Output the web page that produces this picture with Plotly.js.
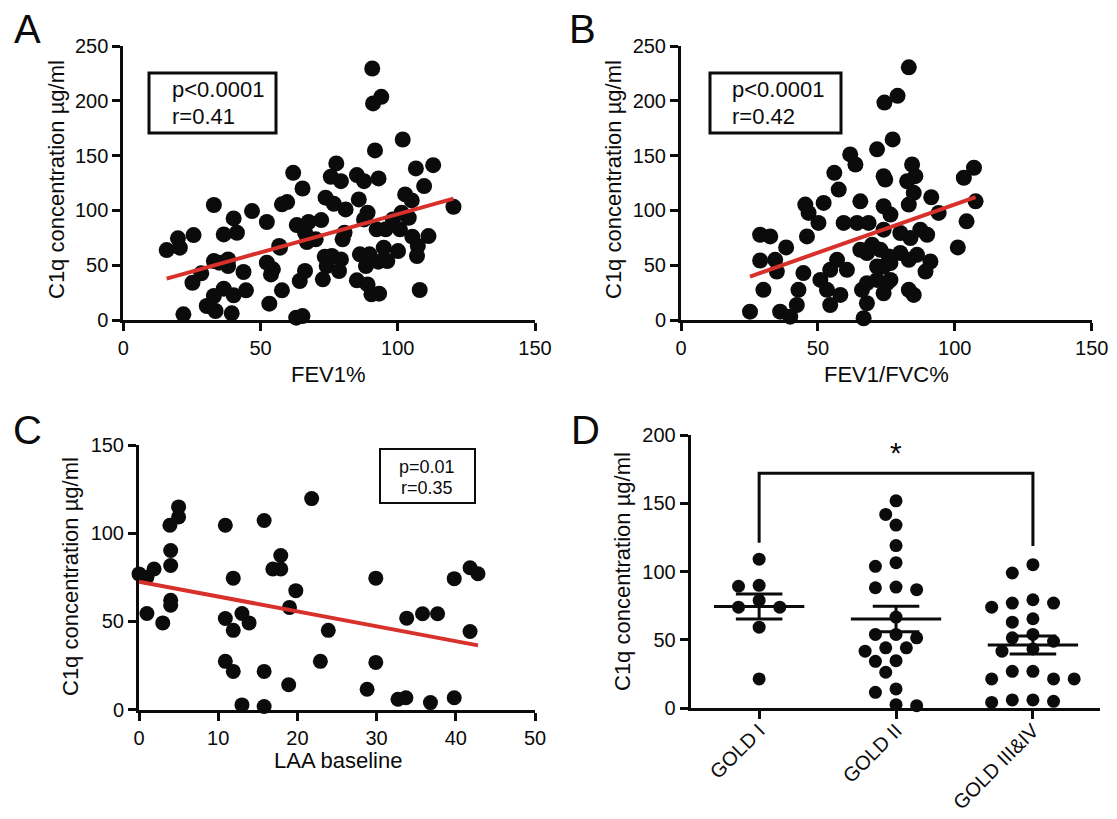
<!DOCTYPE html>
<html>
<head>
<meta charset="utf-8">
<script src="https://cdn.plot.ly/plotly-3.0.1.min.js"></script>
<style>html,body{margin:0;padding:0;background:#fff;}#chart{width:1117px;height:819px;}</style>
</head>
<body>
<div id="chart"></div>
<script>
// ---------- Panel A: FEV1% vs C1q ----------
const fev1 = [90.7,91,94,101.8,91.7,77.6,112.9,106.6,61.9,75.6,79.3,85.1,87.7,93,65.3,109.6,73.7,76.7,81,85.8,102.7,105.1,120.3,33,46.9,57.8,59.7,40.2,52.3,41.4,36.6,25.6,19.9,20.6,15.8,63.2,67.5,72.1,66.2,70.1,66.9,57.1,87.7,89,98.2,101.4,104,92.3,95.6,100.8,105.3,111.2,80.6,79.9,94.9,100.1,107.3,107,86.2,89.7,88.4,92.9,96.2,73.4,76,79.3,74.1,78.6,72.7,66.2,64.3,54.5,52.3,53.8,56.8,85.1,89,90.4,93.2,108,33,34.9,38.2,38.2,43.8,28.4,25.2,44.7,40.2,36.6,33,30.4,33.6,39.5,53.2,57.8,21.9,63,65.3];
const c1qA = [229.5,197.6,203.6,164.7,154.7,142.9,141.3,138.3,134.3,130.7,126.7,132.2,126.7,129.2,120,122.2,111.6,106,100.9,110,114.6,109.1,103.3,104.9,99.4,105.5,107.6,92.7,89.4,79.6,78.1,77.5,74.5,66,63.8,86.6,89.4,91.2,79.6,73.6,71.1,66,91.8,97.9,91.8,97.9,93.3,82.7,82.7,82.7,76,76.6,79.6,73.6,66,62.9,67.5,58.4,59.9,59.9,49.2,53.2,53.8,57.8,58.4,55.3,49.2,44.7,37.1,44.7,35.6,46.2,52.3,41.6,67.5,36.2,32.5,23.4,24,27.4,53.8,52.3,55.3,49.2,43.8,42.6,34,27.1,22.5,28.6,21.9,12.8,8.2,6.1,14.9,27.1,5.2,2.1,3.6];

// ---------- Panel B: FEV1/FVC% vs C1q ----------
const fev1fvc = [83.2,79.1,74.3,77.3,71.6,84.4,85.6,82.6,74.6,107,103.3,107.6,104.3,101.1,91.4,94.1,85,83.2,74,76.5,87.4,89.9,83.8,80.1,72.8,80.1,86.2,91.1,83.2,76.5,89.3,74,75.3,83.2,85,28.9,32.6,38.4,28.9,34.4,35,30.1,25.2,36.2,39.9,42.3,42.9,44.7,45.4,46.6,50.2,46,52.1,56,57.6,61.8,63.7,74,65.5,59.4,64.3,68.5,74,67.9,75.9,57,54.5,50.9,53.3,58.2,54.5,60.6,66.1,67.9,66.7,71.6,74,71.6,69.8,65.5,67.9,76.5];
const c1qB = [230.5,204.5,198.4,164.8,155.7,141.9,131.2,126.6,128.2,138.9,129.8,108.3,90,66.2,112,97.7,116,105.3,103.8,96.2,82.4,77.8,74.8,79.4,64.1,61.1,59.5,53.4,54.9,51.9,44.2,48.8,33.6,27.5,22.9,77.8,76.3,66.2,54.3,54.9,44.2,27.5,7.6,7.6,3,13.7,27.5,42.8,105.3,97.7,88.6,76.3,106.8,134.3,119,151.1,141.9,131.2,108.3,88.6,88.6,88.6,82.4,61.1,58,54.9,45.8,36.6,27.5,22.9,13.7,45.8,27.5,15.3,1.6,36.6,24.4,48.8,68.7,64.1,33.6,36.6];

// ---------- Panel C: LAA baseline vs C1q ----------
const laa = [0,1,1.9,5,5,3.9,4,4,4,4,1,3,10.9,11.9,10.9,11.9,13,13.9,10.9,11.9,13,15.8,15.8,15.8,17.9,16.9,17.9,18.9,19.8,19,21.8,22.9,23.9,29.9,29.9,28.8,32.7,33.7,36.8,39.8,33.8,35.8,37.7,39.8,41.8,42.8,41.8];
const c1qC = [76.9,75,79.7,114.9,109.2,104.5,90.2,81.7,61.9,59.1,54.4,49.1,104.5,74.5,51.6,44.9,54.4,49.1,27.3,21.6,2.6,107.2,21.6,1.7,87.3,79.7,79.7,14,67.4,57.9,119.6,27.3,44.9,74.5,26.7,11.5,5.8,6.7,3.9,6.7,51.8,54.3,54.3,74.2,80.4,77,44.2];

// ---------- Panel D: GOLD stages ----------
const goldLabels = ['GOLD I','GOLD II','GOLD III&IV'];
const goldI = [109,89.9,89.2,78.8,73.9,73.9,59.2,21.3];
const goldII = [151.8,141.8,134,119,106.5,103.8,88.6,86.7,88.1,66.6,51.4,53.9,53.9,41.6,44.1,44.1,34.2,34.7,26.2,11.5,14,1.7,2.4];
const goldIII = [105,98.9,76.9,79.3,76.9,73.9,65.4,62.9,53.9,51.4,48.9,43.3,41.6,26.9,26.9,21.3,21.3,21.3,5.9,4.1,4.9,5.9];

const statsText = {
  A: ['p&lt;0.0001','r=0.41'],
  B: ['p&lt;0.0001','r=0.42'],
  C: ['p=0.01','r=0.35']
};

// ---------- helpers ----------
const F = 'Liberation Sans, Arial, Helvetica, sans-serif';
const K = '#0b0b0b';
const RED = '#d8312c';

function linfit(x, y) {
  const n = x.length;
  const mx = x.reduce((a,b)=>a+b,0)/n, my = y.reduce((a,b)=>a+b,0)/n;
  let sxy=0, sxx=0;
  for (let i=0;i<n;i++){ sxy+=(x[i]-mx)*(y[i]-my); sxx+=(x[i]-mx)*(x[i]-mx); }
  const b = sxy/sxx, a = my - b*mx;
  const x0 = Math.min(...x), x1 = Math.max(...x);
  return {x:[x0,x1], y:[a+b*x0, a+b*x1]};
}
function meanSem(v){
  const n=v.length, m=v.reduce((a,b)=>a+b,0)/n;
  const sd=Math.sqrt(v.reduce((a,b)=>a+(b-m)*(b-m),0)/(n-1));
  return {m:m, s:sd/Math.sqrt(n)};
}
function swarm(vals, center, stepPx, minDist, pxPerX, pxPerY){
  const order = vals.map((v,i)=>i).sort((a,b)=>vals[b]-vals[a]);
  const placed=[]; const xs=new Array(vals.length);
  for (const i of order){
    for (let k=0;k<60;k++){
      const slot = k===0?0:(k%2 ? -Math.ceil(k/2) : Math.ceil(k/2));
      const px = slot*stepPx, py = vals[i]*pxPerY;
      if (placed.every(p=>Math.hypot(p[0]-px,p[1]-py)>=minDist)){
        placed.push([px,py]); xs[i]=center+px/pxPerX; break;
      }
    }
  }
  return xs;
}

const traces = [];
function scatterPanel(x, y, xa, ya, size){
  const f = linfit(x, y);
  traces.push({type:'scatter', mode:'markers', x:x, y:y, xaxis:xa, yaxis:ya,
    marker:{size:size, color:K}, cliponaxis:false, hoverinfo:'x+y'});
  traces.push({type:'scatter', mode:'lines', x:f.x, y:f.y, xaxis:xa, yaxis:ya,
    line:{color:RED, width:4}, cliponaxis:false, hoverinfo:'skip'});
}
scatterPanel(fev1, c1qA, 'x', 'y', 16);
scatterPanel(fev1fvc, c1qB, 'x2', 'y2', 16);
scatterPanel(laa, c1qC, 'x3', 'y3', 15);

// Panel D dots, mean and SEM
const groups = [goldI, goldII, goldIII];
groups.forEach((g, gi) => {
  const xs = swarm(g, gi, 10.3, 14, 136.7, 1.365);
  traces.push({type:'scatter', mode:'markers', x:xs, y:g, xaxis:'x4', yaxis:'y4',
    marker:{size:13, color:K}, cliponaxis:false, hoverinfo:'y'});
});
groups.forEach((g, gi) => {
  const st = meanSem(g);
  const mw = 0.33, cw = 0.17;
  traces.push({type:'scatter', mode:'lines', xaxis:'x4', yaxis:'y4', hoverinfo:'skip',
    x:[gi-mw, gi+mw, null, gi-cw, gi+cw, null, gi-cw, gi+cw, null, gi, gi],
    y:[st.m, st.m, null, st.m+st.s, st.m+st.s, null, st.m-st.s, st.m-st.s, null, st.m-st.s, st.m+st.s],
    line:{color:K, width:3}, cliponaxis:false});
});
// significance bracket GOLD I vs GOLD III&IV
traces.push({type:'scatter', mode:'lines', xaxis:'x4', yaxis:'y4', hoverinfo:'skip',
  x:[0,0,2,2], y:[121,172,172,118.7], line:{color:K, width:3}, cliponaxis:false});

// ---------- layout ----------
const W=1117, H=819;
const px = X => X/W, py = Y => 1 - Y/H;
function ax(extra){
  return Object.assign({showline:true, linecolor:K, linewidth:3, ticks:'outside', ticklen:8,
    tickwidth:3, tickcolor:K, showgrid:false, zeroline:false, automargin:false, fixedrange:true,
    tickfont:{family:F, size:20, color:K}}, extra);
}
const layout = {
  width:W, height:H, margin:{l:0,r:0,t:0,b:0}, paper_bgcolor:'#fff', plot_bgcolor:'rgba(0,0,0,0)',
  showlegend:false, font:{family:F, color:K},
  xaxis: ax({domain:[px(123.3),px(535)], range:[0,150], tickvals:[0,50,100,150], anchor:'y'}),
  yaxis: ax({domain:[py(320),py(46)], range:[0,250], tickvals:[0,50,100,150,200,250], anchor:'x'}),
  xaxis2: ax({domain:[px(681),px(1091.7)], range:[0,150], tickvals:[0,50,100,150], anchor:'y2'}),
  yaxis2: ax({domain:[py(320),py(46)], range:[0,250], tickvals:[0,50,100,150,200,250], anchor:'x2'}),
  xaxis3: ax({domain:[px(139),px(535)], range:[0,50], tickvals:[0,10,20,30,40,50], anchor:'y3'}),
  yaxis3: ax({domain:[py(709.5),py(445)], range:[0,150], tickvals:[0,50,100,150], anchor:'x3'}),
  xaxis4: ax({domain:[px(690.7),px(1100)], range:[-0.5,2.49], tickvals:[0,1,2], ticktext:goldLabels, tickangle:-45, anchor:'y4', ticklabelstandoff:-8, tickfont:{family:F, size:20, color:K}}),
  yaxis4: ax({domain:[py(708),py(435)], range:[0,200], tickvals:[0,50,100,150,200], anchor:'x4'}),
  shapes: [
    {type:'rect', xref:'paper', yref:'paper', x0:px(149), x1:px(276), y0:py(133), y1:py(73), line:{color:K, width:3}},
    {type:'rect', xref:'paper', yref:'paper', x0:px(710), x1:px(841), y0:py(133), y1:py(73), line:{color:K, width:3}},
    {type:'rect', xref:'paper', yref:'paper', x0:px(380), x1:px(475), y0:py(503), y1:py(449), line:{color:K, width:2}}
  ],
  annotations: []
};
const A = layout.annotations;
function note(text, X, Y, size, opts){
  A.push(Object.assign({text:text, xref:'paper', yref:'paper', x:px(X), y:py(Y), showarrow:false,
    xanchor:'center', yanchor:'middle', font:{family:F, size:size, color:K}}, opts||{}));
}
// panel letters
note('A', 27, 29, 40); note('B', 582, 29, 40); note('C', 27, 430, 40); note('D', 585, 430, 40);
// axis titles
const ytitle = 'C1q concentration µg/ml';
note(ytitle, 56, 180, 22, {textangle:-90});
note(ytitle, 613, 180, 22, {textangle:-90});
note(ytitle, 70, 577, 22, {textangle:-90});
note(ytitle, 622, 572, 22, {textangle:-90});
note('FEV1%', 328, 375, 22);
note('FEV1/FVC%', 886, 375, 22);
note('LAA baseline', 338, 760, 22);
// stats boxes
note(statsText.A[0], 170, 89.5, 22, {xanchor:'left'});
note(statsText.A[1], 170, 117, 22, {xanchor:'left'});
note(statsText.B[0], 730, 89.5, 22, {xanchor:'left'});
note(statsText.B[1], 730, 117, 22, {xanchor:'left'});
note(statsText.C[0], 427, 466.5, 18);
note(statsText.C[1], 427, 487.5, 18);
// significance star
A.push({text:'*', xref:'x4', yref:'y4', x:1, y:172, yanchor:'bottom', yshift:2, showarrow:false,
  font:{family:F, size:30, color:K}});

Plotly.newPlot('chart', traces, layout, {staticPlot:true, displayModeBar:false});
</script>
</body>
</html>
